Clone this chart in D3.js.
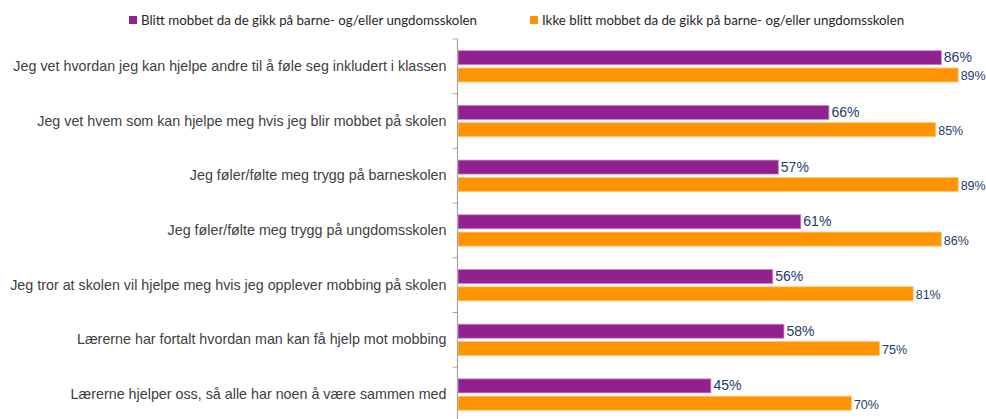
<!DOCTYPE html>
<html>
<head>
<meta charset="utf-8">
<script src="https://cdn.jsdelivr.net/npm/d3@7"></script>
<style>
  html, body { margin: 0; padding: 0; background: #fff; }
  svg { display: block; }
</style>
</head>
<body>
<svg id="chart" width="986" height="419"></svg>
<script>
// Survey statements, top to bottom
const categories = [
  "Jeg vet hvordan jeg kan hjelpe andre til å føle seg inkludert i klassen",
  "Jeg vet hvem som kan hjelpe meg hvis jeg blir mobbet på skolen",
  "Jeg føler/følte meg trygg på barneskolen",
  "Jeg føler/følte meg trygg på ungdomsskolen",
  "Jeg tror at skolen vil hjelpe meg hvis jeg opplever mobbing på skolen",
  "Lærerne har fortalt hvordan man kan få hjelp mot mobbing",
  "Lærerne hjelper oss, så alle har noen å være sammen med"
];
const seriesNames = [
  "Blitt mobbet da de gikk på barne- og/eller ungdomsskolen",
  "Ikke blitt mobbet da de gikk på barne- og/eller ungdomsskolen"
];
const bulliedValues = [86, 66, 57, 61, 56, 58, 45];
const notBulliedValues = [89, 85, 89, 86, 81, 75, 70];

const colors = ["#93208f", "#ff9300"];
const strokes = ["#c98ac7", "#ffc67a"];
const labelColor = "#1f3a6e";

const svg = d3.select("#chart");

const axisX = 457.5;
const x = d3.scaleLinear().domain([0, 100]).range([axisX, axisX + 562]);
const y = d3.scaleBand().domain(categories).range([39, 39 + 7 * 54.7]);
const sub = d3.scaleBand().domain([0, 1]).range([0, y.bandwidth()])
  .paddingInner(0.19).paddingOuter(0.676);

const rows = categories.map((c, i) => ({ cat: c, vals: [bulliedValues[i], notBulliedValues[i]] }));

// Bars
const groups = svg.append("g").selectAll("g").data(rows).join("g")
  .attr("transform", d => `translate(0,${y(d.cat)})`);

groups.selectAll("rect").data(d => d.vals.map((v, s) => ({ v, s }))).join("rect")
  .attr("x", x(0) + 0.5)
  .attr("y", d => sub(d.s))
  .attr("width", d => x(d.v) - x(0))
  .attr("height", sub.bandwidth())
  .attr("fill", d => colors[d.s])
  .attr("stroke", d => strokes[d.s])
  .attr("stroke-width", 0.8);

// Value labels
groups.selectAll("text.val").data(d => d.vals.map((v, s) => ({ v, s }))).join("text")
  .attr("class", "val")
  .attr("x", d => x(d.v) + 3)
  .attr("y", d => sub(d.s) + sub.bandwidth() / 2 + (d.s === 0 ? 4.5 : 5.5))
  .attr("font-family", "Liberation Sans, Arial, sans-serif")
  .attr("font-size", d => d.s === 0 ? 14 : 12.5)
  .attr("fill", labelColor)
  .text(d => d.v + "%");

// Category axis
const axis = d3.axisLeft(y).tickSize(0).tickPadding(11);
const axisG = svg.append("g").attr("transform", `translate(${axisX},0)`).call(axis);
axisG.select(".domain").attr("stroke", "#a6a6a6").attr("stroke-width", 1.2)
  .attr("d", `M0,${y.range()[0]}V419`);
axisG.selectAll(".tick text")
  .attr("font-family", "Liberation Sans, Arial, sans-serif")
  .attr("font-size", 14.3)
  .attr("fill", "#404040");

// Tick marks at the band boundaries
const boundaries = categories.map(c => y(c));
axisG.selectAll("line.sep").data(boundaries).join("line")
  .attr("class", "sep")
  .attr("x1", -5).attr("x2", 0)
  .attr("y1", d => d).attr("y2", d => d)
  .attr("stroke", "#a6a6a6").attr("stroke-width", 1);

// Legend
const legendX = [129, 530];
const legend = svg.append("g").selectAll("g").data(seriesNames).join("g")
  .attr("transform", (d, i) => `translate(${legendX[i]},16)`);
legend.append("rect").attr("width", 8).attr("height", 8)
  .attr("fill", (d, i) => colors[i]);
legend.append("text")
  .attr("x", 12).attr("y", 8.5)
  .attr("font-family", "Lato, 'Open Sans', sans-serif")
  .attr("font-size", 13.3)
  .attr("fill", "#262626")
  .text(d => d);
</script>
</body>
</html>
